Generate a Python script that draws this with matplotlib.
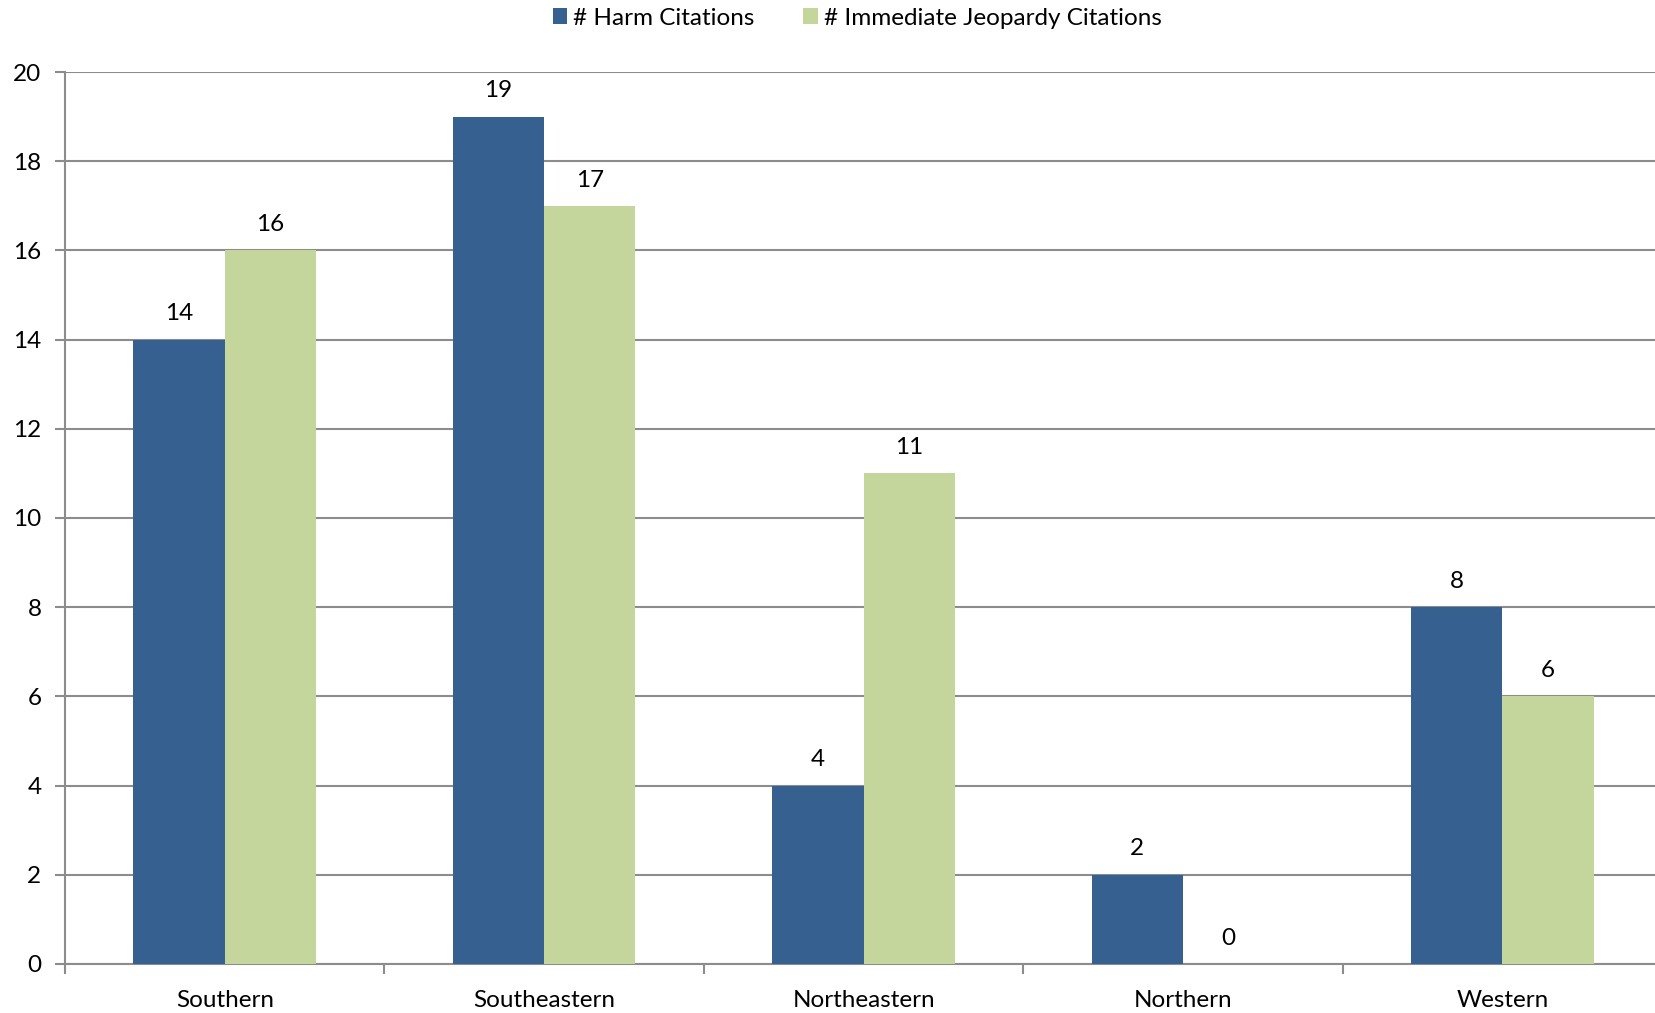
import matplotlib
matplotlib.use('Agg')
import matplotlib.pyplot as plt
import numpy as np

regions = ['Southern', 'Southeastern', 'Northeastern', 'Northern', 'Western']
harm = [14, 19, 4, 2, 8]
jeopardy = [16, 17, 11, 0, 6]
series_names = ['# Harm Citations', '# Immediate Jeopardy Citations']

plt.rcParams['font.family'] = ['Lato', 'DejaVu Sans']
fs = 17.5

fig = plt.figure(figsize=(16.55, 10.13), dpi=100)
ax = fig.add_axes([0.0393, 0.0484, 0.965, 0.8805])

x = np.arange(len(regions))
w = 1 / 3.5
b1 = ax.bar(x - w / 2, harm, w, color='#36608F', label=series_names[0], zorder=3)
b2 = ax.bar(x + w / 2, jeopardy, w, color='#C4D69B', label=series_names[1], zorder=3)

for bars in (b1, b2):
    for rect in bars:
        ax.annotate(f'{int(rect.get_height())}',
                    (rect.get_x() + rect.get_width() / 2, rect.get_height()),
                    xytext=(0, 11), textcoords='offset points',
                    ha='center', va='bottom', fontsize=fs, color='black')

ax.set_xlim(-0.5, len(regions) - 0.5)
ax.set_ylim(0, 20)
ax.set_yticks(range(0, 21, 2))
ax.yaxis.grid(True, color='#8C8C8C', linewidth=1.5, zorder=0)
ax.set_xticks(x)
ax.set_xticklabels(regions, fontsize=fs)
ax.set_xticks(np.arange(-0.5, len(regions)), minor=True)
ax.tick_params(axis='x', which='major', length=0, pad=19)
ax.tick_params(axis='x', which='minor', length=7, width=1.5, color='#8C8C8C')
ax.tick_params(axis='y', length=7, width=1.5, color='#8C8C8C', labelsize=fs, pad=10)

for s in ['top', 'right']:
    ax.spines[s].set_visible(False)
for s in ['left', 'bottom']:
    ax.spines[s].set_color('#8C8C8C')
    ax.spines[s].set_linewidth(1.5)

fig.legend(loc='center', bbox_to_anchor=(0.518, 0.982), ncol=2, frameon=False,
           fontsize=fs, handlelength=0.6, handleheight=0.6, handletextpad=0.25,
           columnspacing=2.0)

plt.savefig('out.png')
plt.close()
